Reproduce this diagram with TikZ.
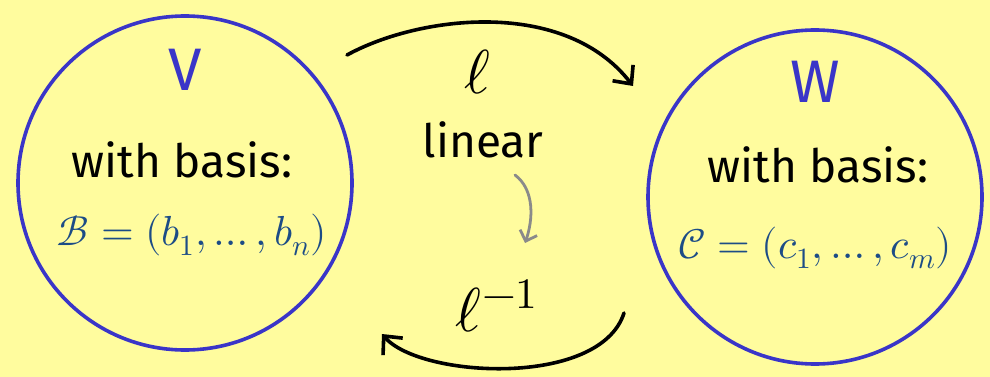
\documentclass[tikz,border=0pt]{standalone}
\usepackage{fontspec}
\usepackage{unicode-math}
\setmainfont{Fira Sans}
\setmathfont{Latin Modern Math}
\usetikzlibrary{arrows.meta}
\definecolor{bg}{HTML}{FFFC9E}
\definecolor{ring}{HTML}{3A35C8}
\definecolor{basisblue}{HTML}{1C4C86}
\definecolor{grayarrow}{HTML}{8A8A8A}
\tikzset{
  space/.style={circle, draw=ring, line width=3.6pt, minimum size=334pt, inner sep=0pt},
  spacename/.style={text=ring, font=\fontsize{60}{64}\selectfont},
  txt/.style={text=black, font=\fontsize{46}{52}\selectfont},
  ellnode/.style={text=black, font=\fontsize{62}{66}\selectfont},
  basis/.style={text=basisblue, font=\fontsize{42}{48}\selectfont},
  maparrow/.style={line width=3.6pt, line cap=round, -{Straight Barb[length=14pt,width=26pt,line width=3.6pt]}},
  hintarrow/.style={line width=2.8pt, grayarrow, line cap=round, -{Straight Barb[length=9pt,width=18pt,line width=2.8pt]}},
}
\begin{document}
\begin{tikzpicture}[x=1pt,y=-1pt]
\fill[bg] (0,0) rectangle (990,377);
\useasboundingbox (0,0) rectangle (990,377);
\node[space] (V) at (185,183) {};
\node[space] (W) at (815,197) {};
\node[spacename] (Vn) at (185,70) {V};
\node[spacename] (Wn) at (815,82) {W};
\node[txt] (Vb) at (182,160) {with basis:};
\node[txt] (Wb) at (818,165) {with basis:};
\node[basis] (Vs) at (192,235) {$\mathcal{B}=(b_1,\dots,b_n)$};
\node[basis] (Ws) at (815,248) {$\mathcal{C}=(c_1,\dots,c_m)$};
\node[ellnode] (l) at (478,72) {$\ell$};
\node[txt] (lin) at (483,140) {linear};
\node[ellnode] (li) at (497,306) {$\ell^{-1}$};
\coordinate (a1) at (347,55);
\coordinate (a2) at (633,86);
\coordinate (b1) at (624,313);
\coordinate (b2) at (382,334);
\coordinate (g1) at (515,175);
\coordinate (g2) at (525,243);
\draw[maparrow] (a1) .. controls (420,15) and (565,-2) .. (a2);
\draw[maparrow] (b1) .. controls (600,388) and (420,378) .. (b2);
\draw[hintarrow] (g1) .. controls (535,190) and (533,220) .. (g2);
\end{tikzpicture}
\end{document}
